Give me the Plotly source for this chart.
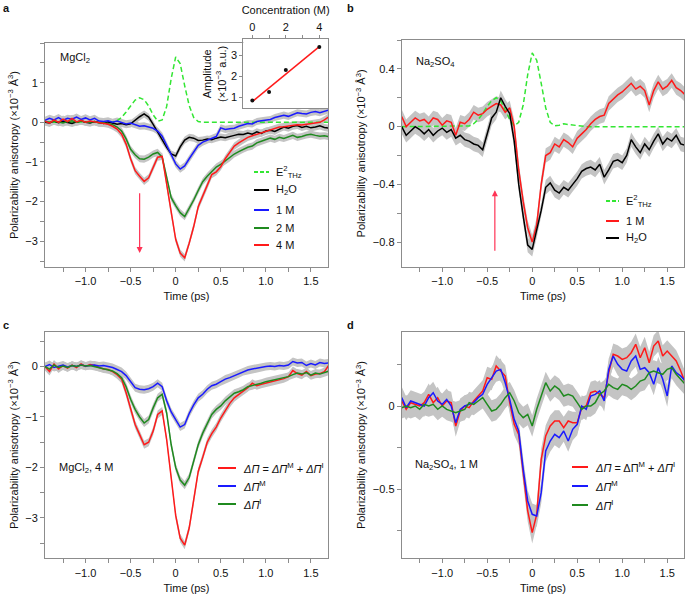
import plotly.graph_objects as go

# ---------------- data ----------------
time = [-1.45, -1.40, -1.35, -1.30, -1.25, -1.20, -1.15, -1.10, -1.05, -1.00,
        -0.95, -0.90, -0.85, -0.80, -0.75, -0.70, -0.65, -0.60, -0.55, -0.50,
        -0.45, -0.40, -0.35, -0.30, -0.25, -0.20, -0.15, -0.10, -0.05, 0.00,
        0.05, 0.10, 0.15, 0.20, 0.25, 0.30, 0.35, 0.40, 0.45, 0.50,
        0.55, 0.60, 0.65, 0.70, 0.75, 0.80, 0.85, 0.90, 0.95, 1.00,
        1.05, 1.10, 1.15, 1.20, 1.25, 1.30, 1.35, 1.40, 1.45, 1.50,
        1.55, 1.60, 1.65, 1.70]

# panel a (MgCl2)
a_e2 = [0, 0, 0, 0, 0, 0, 0, 0, 0, 0,
        0, 0, 0, 0, 0, 0.01, 0.04, 0.12, 0.26, 0.42,
        0.56, 0.62, 0.57, 0.41, 0.19, 0.03, 0.06, 0.40, 1.10, 1.65,
        1.48, 0.92, 0.42, 0.12, 0.02, 0, 0, 0, 0, 0,
        0, 0, 0, 0, 0, 0, 0, 0, 0, 0,
        0, 0, 0, 0, 0, 0, 0, 0, 0, 0,
        0, 0, 0, 0]
a_h2o = [0.00, -0.02, 0.03, -0.01, 0.02, 0.00, -0.03, 0.01, 0.03, 0.00,
         -0.02, 0.02, 0.00, -0.03, 0.01, -0.02, -0.05, -0.03, -0.06, -0.04,
         0.06, 0.14, 0.21, 0.13, -0.05, -0.25, -0.45, -0.63, -0.80, -0.85,
         -0.62, -0.45, -0.38, -0.40, -0.46, -0.45, -0.42, -0.44, -0.40, -0.37,
         -0.39, -0.35, -0.33, -0.30, -0.31, -0.27, -0.30, -0.24, -0.28, -0.22,
         -0.20, -0.23, -0.17, -0.12, -0.15, -0.10, -0.08, -0.13, -0.10, -0.14,
         -0.12, -0.09, -0.13, -0.15]
a_1m = [0.05, 0.10, 0.06, 0.12, 0.05, 0.10, 0.08, 0.13, 0.07, 0.11,
        0.06, 0.10, 0.03, 0.02, 0.04, 0.00, 0.03, 0.00, -0.04, -0.02,
        -0.06, -0.10, -0.09, -0.12, -0.15, -0.22, -0.35, -0.58, -0.82, -1.05,
        -1.18, -1.10, -0.92, -0.76, -0.58, -0.50, -0.45, -0.40, -0.36, -0.14,
        -0.18, -0.16, -0.15, -0.10, -0.06, -0.03, -0.04, 0.02, 0.04, 0.06,
        0.07, 0.12, 0.15, 0.18, 0.15, 0.20, 0.24, 0.22, 0.21, 0.25,
        0.27, 0.24, 0.28, 0.31]
a_2m = [0.02, 0.00, 0.03, 0.01, -0.02, 0.02, 0.04, 0.00, 0.03, 0.01,
        0.00, 0.02, -0.02, -0.01, -0.04, -0.06, -0.12, -0.22, -0.42, -0.68,
        -0.82, -0.92, -0.93, -0.88, -0.80, -0.76, -0.88, -1.37, -1.90, -2.10,
        -2.28, -2.38, -2.18, -1.96, -1.72, -1.50, -1.36, -1.24, -1.13, -1.06,
        -0.97, -0.90, -0.80, -0.74, -0.68, -0.63, -0.60, -0.52, -0.48, -0.44,
        -0.40, -0.43, -0.38, -0.41, -0.37, -0.33, -0.38, -0.36, -0.32, -0.30,
        -0.33, -0.35, -0.34, -0.36]
a_4m = [0.03, -0.02, 0.06, 0.00, 0.08, 0.02, 0.10, 0.01, 0.05, 0.00,
        0.03, 0.01, -0.02, -0.03, -0.05, -0.10, -0.17, -0.30, -0.55, -0.92,
        -1.22, -1.36, -1.49, -1.40, -1.15, -0.88, -0.86, -1.55, -2.30, -2.95,
        -3.30, -3.42, -3.05, -2.63, -2.13, -1.85, -1.60, -1.32, -1.25, -1.12,
        -0.92, -0.75, -0.60, -0.52, -0.45, -0.38, -0.34, -0.30, -0.26, -0.24,
        -0.20, -0.16, -0.12, -0.11, -0.09, -0.08, -0.06, -0.07, -0.05, -0.04,
        -0.02, 0.00, 0.06, 0.14]

# inset (amplitude vs concentration)
conc = [0, 1, 2, 4]
amplitude = [0.85, 1.25, 2.30, 3.38]
fit_conc = [0, 4]
fit_amp = [0.80, 3.40]

# panel b (Na2SO4)
b_e2 = [0, 0, 0, 0, 0, 0, 0, 0, 0, 0,
        0, 0, 0, 0, 0, 0.005, 0.02, 0.05, 0.09, 0.14,
        0.18, 0.20, 0.18, 0.12, 0.05, 0.005, 0.03, 0.15, 0.36, 0.51,
        0.46, 0.30, 0.13, 0.03, 0.005, 0.01, 0.02, 0.015, 0.01, 0.005,
        0, 0, 0, 0, 0, 0, 0, 0, 0, 0,
        0, 0, 0, 0, 0, 0, 0, 0, 0, 0,
        0, 0, 0, 0]
b_1m = [0.07, 0.00, 0.03, 0.06, 0.04, 0.05, 0.02, 0.06, 0.05, 0.01,
        0.04, 0.03, -0.06, 0.03, 0.02, 0.05, 0.10, 0.08, 0.09, 0.12,
        0.14, 0.16, 0.15, 0.10, 0.13, 0.00, -0.30, -0.52, -0.70, -0.80,
        -0.68, -0.40, -0.20, -0.18, -0.12, -0.14, -0.09, -0.11, -0.14, -0.08,
        -0.05, -0.02, 0.02, 0.05, 0.07, 0.08, 0.16, 0.19, 0.22, 0.24,
        0.27, 0.30, 0.26, 0.28, 0.25, 0.15, 0.25, 0.31, 0.26, 0.28,
        0.32, 0.27, 0.25, 0.22]
b_h2o = [0.00, -0.06, -0.03, 0.00, -0.02, -0.05, -0.02, -0.06, -0.03, -0.01,
         -0.04, -0.02, -0.08, -0.06, -0.09, -0.10, -0.12, -0.13, -0.16, -0.05,
         0.06, 0.10, 0.20, 0.14, 0.09, -0.10, -0.40, -0.62, -0.82, -0.85,
         -0.72, -0.58, -0.42, -0.39, -0.44, -0.46, -0.42, -0.44, -0.40, -0.36,
         -0.31, -0.29, -0.28, -0.30, -0.26, -0.35, -0.30, -0.24, -0.23, -0.25,
         -0.20, -0.09, -0.14, -0.18, -0.12, -0.16, -0.10, -0.05, -0.12, -0.08,
         -0.10, -0.06, -0.12, -0.13]

# panel c (MgCl2, 4 M decomposition)
c_total = [0.00, -0.10, 0.05, -0.05, 0.02, -0.03, 0.03, -0.02, 0.05, 0.00,
           0.04, 0.02, -0.02, -0.05, -0.06, -0.10, -0.16, -0.25, -0.52, -0.85,
           -1.15, -1.35, -1.55, -1.50, -1.28, -0.95, -0.88, -1.45, -2.25, -2.95,
           -3.40, -3.54, -3.20, -2.67, -2.08, -1.80, -1.50, -1.33, -1.20, -1.02,
           -0.87, -0.73, -0.62, -0.55, -0.48, -0.42, -0.33, -0.38, -0.35, -0.33,
           -0.30, -0.28, -0.26, -0.24, -0.20, -0.08, -0.14, -0.17, -0.10, -0.18,
           -0.15, -0.14, -0.10, 0.03]
c_mol = [0.00, 0.04, -0.02, 0.01, 0.03, -0.01, 0.02, 0.00, 0.03, 0.01,
         0.02, 0.03, 0.01, 0.02, 0.00, -0.02, -0.06, -0.10, -0.18, -0.30,
         -0.42, -0.45, -0.46, -0.44, -0.40, -0.33, -0.40, -0.68, -0.90, -1.05,
         -1.20, -1.15, -0.93, -0.76, -0.62, -0.55, -0.45, -0.38, -0.35, -0.30,
         -0.25, -0.22, -0.18, -0.14, -0.10, -0.07, -0.05, -0.03, -0.02, 0.00,
         0.01, 0.00, 0.02, 0.01, 0.03, 0.10, 0.07, 0.08, 0.02, 0.06,
         0.03, 0.08, 0.06, 0.07]
c_ion = [0.00, -0.05, 0.03, -0.02, 0.01, -0.02, 0.02, 0.00, 0.03, 0.01,
         0.02, 0.00, -0.02, -0.04, -0.06, -0.09, -0.14, -0.22, -0.40, -0.65,
         -0.85, -1.00, -1.12, -1.05, -0.82, -0.62, -0.55, -0.92, -1.55, -2.00,
         -2.25, -2.35, -2.20, -1.85, -1.55, -1.32, -1.12, -0.95, -0.85, -0.78,
         -0.68, -0.60, -0.53, -0.50, -0.46, -0.40, -0.38, -0.35, -0.33, -0.30,
         -0.28, -0.27, -0.24, -0.22, -0.20, -0.16, -0.13, -0.15, -0.12, -0.17,
         -0.13, -0.15, -0.12, -0.09]

# panel d (Na2SO4, 1 M decomposition)
d_total = [0.03, -0.02, 0.02, 0.01, 0.00, 0.02, 0.07, 0.02, 0.05, 0.00,
           0.03, 0.02, -0.12, -0.03, 0.00, -0.01, 0.03, 0.06, 0.09, 0.17,
           0.16, 0.24, 0.21, 0.18, 0.02, -0.11, -0.17, -0.40, -0.63, -0.76,
           -0.65, -0.32, -0.18, -0.12, -0.09, -0.09, -0.13, -0.09, -0.10, -0.10,
           -0.01, 0.00, 0.08, 0.09, 0.07, 0.05, 0.20, 0.31, 0.30, 0.28,
           0.29, 0.32, 0.37, 0.29, 0.35, 0.26, 0.36, 0.39, 0.30, 0.33,
           0.30, 0.27, 0.21, 0.14]
d_mol = [0.05, -0.01, 0.03, 0.02, 0.01, 0.00, 0.05, 0.08, 0.03, 0.01,
         0.04, 0.00, -0.10, -0.02, 0.00, 0.01, 0.02, 0.05, 0.07, 0.13,
         0.17, 0.21, 0.22, 0.14, 0.04, -0.08, -0.15, -0.38, -0.57, -0.65,
         -0.66, -0.52, -0.27, -0.21, -0.17, -0.19, -0.15, -0.21, -0.14, -0.11,
         0.00, -0.02, 0.06, 0.07, 0.09, 0.03, 0.22, 0.30, 0.25, 0.22,
         0.21, 0.27, 0.30, 0.22, 0.23, 0.20, 0.13, 0.23, 0.16, 0.06,
         0.24, 0.20, 0.18, 0.15]
d_ion = [-0.01, 0.00, -0.01, 0.00, -0.02, 0.01, 0.00, 0.01, -0.02, 0.00,
         -0.02, -0.03, -0.04, -0.03, -0.02, 0.02, 0.01, 0.03, 0.05, 0.01,
         -0.03, -0.02, 0.01, 0.05, 0.08, 0.03, -0.04, -0.07, -0.05, -0.12,
         -0.02, 0.06, 0.14, 0.09, 0.12, 0.10, 0.06, 0.07, 0.06, 0.02,
         -0.02, 0.00, 0.00, 0.02, 0.07, 0.09, 0.13, 0.11, 0.10, 0.13,
         0.12, 0.10, 0.12, 0.15, 0.16, 0.20, 0.21, 0.20, 0.19, 0.22,
         0.23, 0.19, 0.16, 0.13]

# uncertainty half-widths of the grey bands
err_a = 0.09
err_b = 0.05
err_c = 0.08
err_d = 0.065

# ---------------- styling ----------------
RED = "#ff1a1a"
BLUE = "#1a1aff"
GREEN = "#1f8a1f"
LGREEN = "#33e633"
BLACK = "#000000"
BAND = "#c4c4c4"
AXIS = "#8c8c8c"
FONT = "Liberation Sans, Arial, sans-serif"
DASH = "5px,3px"

W, H = 685, 596


def px_x(p):
    return p / W


def px_y(p):
    return 1 - p / H


fig = go.Figure()


def band(xa, ya, y, err):
    fig.add_trace(go.Scatter(
        x=time + time[::-1],
        y=[v + err for v in y] + [v - err for v in y[::-1]],
        fill="toself", fillcolor=BAND, line=dict(width=0),
        mode="lines", hoverinfo="skip", showlegend=False,
        xaxis=xa, yaxis=ya))


def line(xa, ya, y, color, name, dash=None):
    fig.add_trace(go.Scatter(
        x=time, y=y, mode="lines", name=name,
        line=dict(color=color, width=1.5, dash=dash),
        showlegend=False, xaxis=xa, yaxis=ya))


E2 = "E<sup>2</sup><sub>THz</sub>"
H2O = "H<sub>2</sub>O"
TOT_C = "<i>ΔΠ</i> = <i>ΔΠ</i><sup>M</sup> + <i>ΔΠ</i><sup>I</sup>"
TOT_D = "<i>ΔΠ</i> = ΔΠ<sup>M</sup> + <i>ΔΠ</i><sup>I</sup>"
MOL = "<i>ΔΠ</i><sup>M</sup>"
ION = "<i>ΔΠ</i><sup>I</sup>"

# panel a
for s in [a_h2o, a_1m, a_2m, a_4m]:
    band("x", "y", s, err_a)
line("x", "y", a_e2, LGREEN, E2, dash=DASH)
line("x", "y", a_h2o, BLACK, H2O)
line("x", "y", a_1m, BLUE, "1 M")
line("x", "y", a_2m, GREEN, "2 M")
line("x", "y", a_4m, RED, "4 M")

# panel b
for s in [b_1m, b_h2o]:
    band("x2", "y2", s, err_b)
line("x2", "y2", b_e2, LGREEN, E2, dash=DASH)
line("x2", "y2", b_1m, RED, "1 M")
line("x2", "y2", b_h2o, BLACK, H2O)

# panel c
for s in [c_total, c_mol, c_ion]:
    band("x3", "y3", s, err_c)
line("x3", "y3", c_total, RED, TOT_C)
line("x3", "y3", c_mol, BLUE, MOL)
line("x3", "y3", c_ion, GREEN, ION)

# panel d
for s in [d_total, d_mol, d_ion]:
    band("x4", "y4", s, err_d)
line("x4", "y4", d_total, RED, TOT_D)
line("x4", "y4", d_mol, BLUE, MOL)
line("x4", "y4", d_ion, GREEN, ION)

# inset
fig.add_trace(go.Scatter(x=fit_conc, y=fit_amp, mode="lines",
                         line=dict(color=RED, width=1.5), showlegend=False,
                         xaxis="x5", yaxis="y5"))
fig.add_trace(go.Scatter(x=conc, y=amplitude, mode="markers",
                         marker=dict(color="#111", size=4), showlegend=False,
                         xaxis="x5", yaxis="y5"))

# ---------------- axes ----------------
xt_vals = [-1.0, -0.5, 0, 0.5, 1.0, 1.5]
xt_text = ["−1.0", "−0.5", "0", "0.5", "1.0", "1.5"]


def xaxis(dom, anchor):
    return dict(domain=dom, anchor=anchor, range=[-1.45, 1.69], automargin=False,
                tickvals=xt_vals, ticktext=xt_text, ticks="outside", ticklen=4,
                tickcolor=AXIS, showline=True, linecolor=AXIS, linewidth=1,
                mirror=True, showgrid=False, zeroline=False,
                minor=dict(dtick=0.25, tick0=0, ticks="outside", ticklen=4, tickcolor=AXIS),
                title=dict(text="Time (ps)", standoff=6, font=dict(size=11)),
                tickfont=dict(size=11))


def yaxis(dom, anchor, rng, vals, text, minor):
    return dict(domain=dom, anchor=anchor, range=rng, automargin=False,
                tickvals=vals, ticktext=text, ticks="outside", ticklen=4,
                tickcolor=AXIS, showline=True, linecolor=AXIS, linewidth=1,
                mirror=True, showgrid=False, zeroline=False,
                minor=dict(dtick=minor, tick0=0, ticks="outside", ticklen=4, tickcolor=AXIS),
                title=dict(text="Polarizability anisotropy (×10<sup>−3</sup> Å<sup>3</sup>)",
                           standoff=4, font=dict(size=11)),
                tickfont=dict(size=11))


xa = [px_x(45), px_x(328)]
xb = [px_x(401.7), 0.999]
ya = [px_y(267), px_y(43)]
yb = [px_y(266.7), px_y(40)]
ycd = [px_y(558.3), px_y(331.7)]

fig.update_layout(
    width=W, height=H,
    margin=dict(l=0, r=0, t=0, b=0),
    paper_bgcolor="white", plot_bgcolor="white",
    font=dict(family=FONT, size=11, color="#111"),
    showlegend=False,
    xaxis=xaxis(xa, "y"),
    yaxis=yaxis(ya, "x", [-3.65, 2.0], [-3, -2, -1, 0, 1],
                ["−3", "−2", "−1", "0", "1"], 0.5),
    xaxis2=xaxis(xb, "y2"),
    yaxis2=yaxis(yb, "x2", [-0.97, 0.6], [-0.8, -0.4, 0, 0.4],
                 ["−0.8", "−0.4", "0", "0.4"], 0.2),
    xaxis3=xaxis(xa, "y3"),
    yaxis3=yaxis(ycd, "x3", [-3.8, 0.69], [-3, -2, -1, 0],
                 ["−3", "−2", "−1", "0"], 0.5),
    xaxis4=xaxis(xb, "y4"),
    yaxis4=yaxis(ycd, "x4", [-0.914, 0.446], [-0.5, 0], ["−0.5", "0"], 0.25),
    xaxis5=dict(domain=[px_x(243.3), px_x(328)], anchor="y5", side="top",
                automargin=False,
                range=[-0.54, 4.52], tickvals=[0, 2, 4], ticktext=["0", "2", "4"],
                ticks="outside", ticklen=3, tickcolor=AXIS, showline=True,
                linecolor=AXIS, mirror=True, showgrid=False, zeroline=False,
                minor=dict(dtick=1, tick0=0, ticks="outside", ticklen=3, tickcolor=AXIS),
                title=dict(text="Concentration (M)", standoff=4, font=dict(size=11)),
                tickfont=dict(size=11)),
    yaxis5=dict(domain=[px_y(108.3), px_y(39.3)], anchor="x5", automargin=False,
                range=[0.48, 3.75], tickvals=[1, 2, 3], ticktext=["1", "2", "3"],
                ticks="outside", ticklen=3, tickcolor=AXIS, showline=True,
                linecolor=AXIS, mirror=True, showgrid=False, zeroline=False,
                title=dict(text="Amplitude<br>(×10<sup>−3</sup> a.u.)", standoff=2,
                           font=dict(size=11)),
                tickfont=dict(size=11)),
)


# manual legends (line sample + label), positions in page pixels
def legend_entry(x0, x1, y, color, label, dash=None):
    fig.add_shape(type="line", xref="paper", yref="paper",
                  x0=px_x(x0), x1=px_x(x1), y0=px_y(y), y1=px_y(y),
                  line=dict(color=color, width=2, dash=dash))
    fig.add_annotation(x=px_x(x1 + 5), y=px_y(y), xref="paper", yref="paper",
                       text=label, showarrow=False, xanchor="left",
                       yanchor="middle", font=dict(size=11, color="#111"))


legend_entry(254, 269, 172, LGREEN, E2, dash="4px,2px")
legend_entry(254, 269, 190, BLACK, H2O)
legend_entry(254, 269, 210, BLUE, "1 M")
legend_entry(254, 269, 228, GREEN, "2 M")
legend_entry(254, 269, 245, RED, "4 M")

legend_entry(606, 619, 201, LGREEN, E2, dash="4px,2px")
legend_entry(606, 619, 221, RED, "1 M")
legend_entry(606, 619, 238, BLACK, H2O)

legend_entry(218, 236, 468, RED, TOT_C)
legend_entry(218, 236, 486, BLUE, MOL)
legend_entry(218, 236, 504, GREEN, ION)

legend_entry(572, 588, 467, RED, TOT_D)
legend_entry(572, 588, 486, BLUE, MOL)
legend_entry(572, 588, 505, GREEN, ION)


# panel annotations
def note(x, y, text, size=11, bold=False):
    fig.add_annotation(x=px_x(x), y=px_y(y), xref="paper", yref="paper",
                       text=("<b>%s</b>" % text) if bold else text,
                       showarrow=False, xanchor="left", yanchor="middle",
                       font=dict(size=size, color="#111"))


note(1, 8, "a", 11, True)
note(345, 8, "b", 11, True)
note(1, 325, "c", 11, True)
note(345, 325, "d", 11, True)
note(58, 58, "MgCl<sub>2</sub>")
note(414, 62, "Na<sub>2</sub>SO<sub>4</sub>")
note(57, 468, "MgCl<sub>2</sub>, 4 M")
note(413, 465, "Na<sub>2</sub>SO<sub>4</sub>, 1 M")

# arrows
fig.add_annotation(x=-0.40, y=-3.30, ax=-0.40, ay=-1.75, xref="x", yref="y",
                   axref="x", ayref="y", showarrow=True, arrowhead=2,
                   arrowsize=1, arrowwidth=1.2, arrowcolor="#ff3355", text="")
fig.add_annotation(x=-0.415, y=-0.44, ax=-0.415, ay=-0.87, xref="x2", yref="y2",
                   axref="x2", ayref="y2", showarrow=True, arrowhead=2,
                   arrowsize=1, arrowwidth=1.2, arrowcolor="#ff3355", text="")

fig.write_html("out.html",
               config={"displayModeBar": False},
               post_script="document.body.style.margin='0px';"
                           "document.body.style.overflow='hidden';")
